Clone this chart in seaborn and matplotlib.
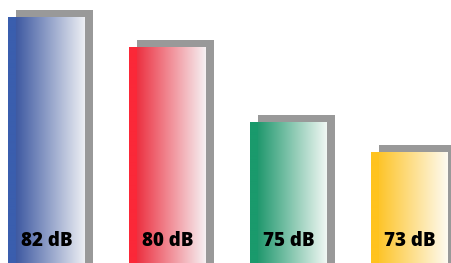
import numpy as np
import pandas as pd
import seaborn as sns
import matplotlib.pyplot as plt
import matplotlib.patheffects as pe
from matplotlib.colors import to_rgb

# chart data
sources = ["A", "B", "C", "D"]
levels = [82, 80, 75, 73]
labels = ["82 dB", "80 dB", "75 dB", "73 dB"]

# gradient colours per bar: left strip, gradient start, gradient end
strip_colors = ["#3a5eae", "#fb2838", "#1a9a6c", "#ffc31e"]
start_colors = ["#3f5aa2", "#ec3242", "#22996f", "#fdc52c"]
end_colors = ["#eceef3", "#f6f0f2", "#f0f7f3", "#fefaf0"]

df = pd.DataFrame({"source": sources, "level": levels})

sns.set_style("white")
fig = plt.figure(figsize=(4.52, 2.63), dpi=100)
ax = fig.add_axes([0, 0, 1, 1])

sns.barplot(data=df, x="source", y="level", width=0.636, color="white",
            linewidth=0, ax=ax)

ymin, ymax = 65.6, 83.13

shadow = [pe.SimplePatchShadow(offset=(5.76, 5.04), shadow_rgbFace="#999999", alpha=1.0),
          pe.Normal()]

for i, bar in enumerate(ax.patches):
    bar.set_facecolor("none")
    bar.set_path_effects(shadow)
    x0 = bar.get_x()
    w = bar.get_width()
    top = bar.get_height()
    n = 77
    strip = 8
    c0 = np.array(to_rgb(strip_colors[i]))
    c1 = np.array(to_rgb(start_colors[i]))
    c2 = np.array(to_rgb(end_colors[i]))
    t = np.linspace(0, 1, n - strip)[:, None]
    grad = np.vstack([np.tile(c0, (strip, 1)), c1 + (c2 - c1) * t])
    img = ax.imshow(grad[None, :, :], extent=(x0, x0 + w, ymin, top),
                    aspect="auto", zorder=2, interpolation="bilinear")
    img.set_clip_path(bar)
    ax.text(x0 + w / 2, 67.05, labels[i], ha="center", va="center",
            fontsize=13.5, fontweight="heavy", family="Open Sans", color="black",
            zorder=3)

ax.set_xlim(-0.384, 3.351)
ax.set_ylim(ymin, ymax)
ax.axis("off")

fig.savefig("out.png", dpi=100)
